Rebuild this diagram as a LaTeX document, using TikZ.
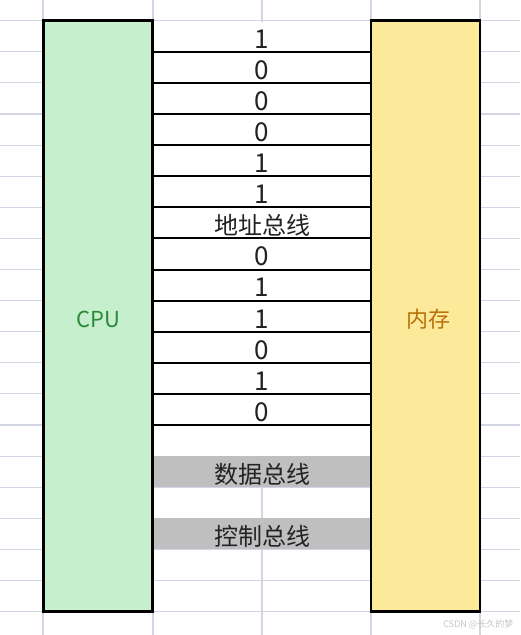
\documentclass[tikz,border=0pt]{standalone}
\usepackage{fontspec}
\setmainfont{Noto Sans CJK SC}
\definecolor{gridblue}{HTML}{D2D6E4}
\definecolor{cpufill}{HTML}{C6EFCE}
\definecolor{cputext}{HTML}{2A8A3A}
\definecolor{memfill}{HTML}{FDE99A}
\definecolor{memtext}{HTML}{B8700A}
\definecolor{busgray}{HTML}{BFBFBF}
\definecolor{busink}{HTML}{222222}
\definecolor{markgray}{HTML}{C4C4C4}
\begin{document}
\begin{tikzpicture}[x=1pt, y=-1pt,
    grid line/.style={draw=gridblue, line width=1.1pt},
    unit box/.style={draw, line width=2.8pt, minimum width=109pt,
        minimum height=591pt, inner sep=0pt, outer sep=0pt},
    unit name/.style={font=\fontsize{22}{22}\selectfont},
    bus line/.style={line width=2pt},
    bus text/.style={anchor=base, text=busink, font=\fontsize{24}{24}\selectfont},
    bit/.style={bus text, font=\fontsize{26}{26}\selectfont}]
    \useasboundingbox (0, 0) rectangle (520, 635);
    % sheet grid
    \foreach \x in {43, 153, 262, 371, 480}
        \draw [grid line] (\x, 0) -- (\x, 635);
    \foreach \k in {0, ..., 19}
        \draw [grid line] (0, {20.7 + \k * 31.1}) -- (520, {20.7 + \k * 31.1});
    \fill [white] (153, 21.5) rectangle (371, 456.1);
    \fill [busgray] (153, 456.1) rectangle (371, 487.2);
    \fill [busgray] (153, 518.3) rectangle (371, 549.4);
    % cpu and memory
    \node [unit box, fill=cpufill] (cpu) at (98.2, 316.2) {};
    \node [unit box, fill=memfill] (mem) at (425.5, 316.2) {};
    \node [unit name, text=cputext] (cpu name) at (98.2, 319) {CPU};
    \node [unit name, text=memtext] (mem name) at (428, 319) {内存};
    % address bus
    \foreach \k in {1, ..., 13}
        \draw [bus line] (cpu.east |- 0, {20.7 + \k * 31.1})
            -- (mem.west |- 0, {20.7 + \k * 31.1});
    \foreach \k/\v in {1/1, 2/0, 3/0, 4/0, 5/1, 6/1, 8/0, 9/1, 10/1, 11/0, 12/1, 13/0}
        \node [bit] (bit\k) at (262, {17 + \k * 31.1}) {\v};
    \node [bus text] (address bus) at (262, {16.7 + 7 * 31.1}) {地址总线};
    \node [bus text] (data bus) at (262, {16.7 + 15 * 31.1}) {数据总线};
    \node [bus text] (control bus) at (262, {16.7 + 17 * 31.1}) {控制总线};
    \node [anchor=base east, text=markgray, font=\fontsize{9}{9}\selectfont]
        (mark) at (517, 627) {CSDN @长久的梦};
\end{tikzpicture}
\end{document}
